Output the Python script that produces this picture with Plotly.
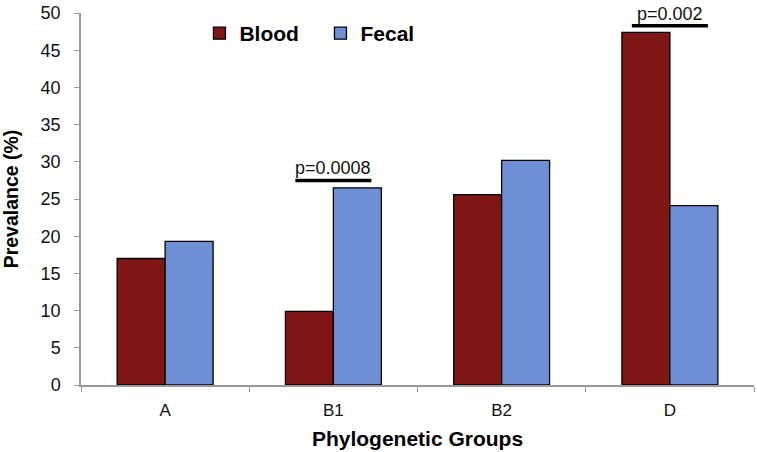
import plotly.graph_objects as go

groups = ["A", "B1", "B2", "D"]
blood = [17.0, 9.9, 25.6, 47.4]
fecal = [19.3, 26.5, 30.2, 24.1]
sig_groups = ["B1", "D"]
sig_labels = ["p=0.0008", "p=0.002"]
sig_levels = [27.5, 48.3]

FONT = "Liberation Sans, Arial, sans-serif"

fig = go.Figure()
fig.add_trace(go.Bar(x=groups, y=blood, name="Blood",
                     marker=dict(color="#7E1713", line=dict(color="#000000", width=1.3))))
fig.add_trace(go.Bar(x=groups, y=fecal, name="Fecal",
                     marker=dict(color="#6F8FD5", line=dict(color="#000000", width=1.3))))

for g, lab, lev in zip(sig_groups, sig_labels, sig_levels):
    i = groups.index(g)
    fig.add_shape(type="line", xref="x", yref="y", x0=i - 0.226, x1=i + 0.226,
                  y0=lev, y1=lev, line=dict(color="black", width=3.5))
    fig.add_annotation(x=i, y=lev, xref="x", yref="y", text=lab, showarrow=False,
                       yanchor="bottom", yshift=0,
                       font=dict(family=FONT, size=18, color="#111111"))

fig.update_layout(
    width=757, height=452,
    margin=dict(l=76, r=3, t=10, b=67),
    paper_bgcolor="white", plot_bgcolor="white",
    barmode="group", bargap=0.43, bargroupgap=0,
    font=dict(family=FONT, size=16, color="#111111"),
    legend=dict(orientation="h", x=0.176, y=1.0, xanchor="left", yanchor="top",
                font=dict(family=FONT, size=21, color="#000000", weight="bold"),
                itemwidth=30, entrywidth=76, bgcolor="rgba(0,0,0,0)",
                traceorder="normal"),
    showlegend=True,
)
fig.update_xaxes(showline=True, linecolor="#999999", linewidth=1.5,
                 ticks="outside", tickson="boundaries", ticklen=5, tickcolor="#999999",
                 ticklabelstandoff=9,
                 tickfont=dict(family=FONT, size=17, color="#111111"),
                 title=dict(text="Phylogenetic Groups", standoff=12,
                            font=dict(family=FONT, size=21, color="#000000", weight="bold")),
                 showgrid=False)
fig.update_yaxes(range=[0, 50], dtick=5, showline=True, linecolor="#999999", linewidth=1.5,
                 ticks="outside", ticklen=5, tickcolor="#999999",
                 ticklabelstandoff=10,
                 tickfont=dict(family=FONT, size=18, color="#111111"),
                 title=dict(text="Prevalance (%)", standoff=24,
                            font=dict(family=FONT, size=19.5, color="#000000", weight="bold")),
                 showgrid=False, zeroline=False)

fig.write_html("out.html", config={"displayModeBar": False},
               post_script="document.body.style.margin='0';")
